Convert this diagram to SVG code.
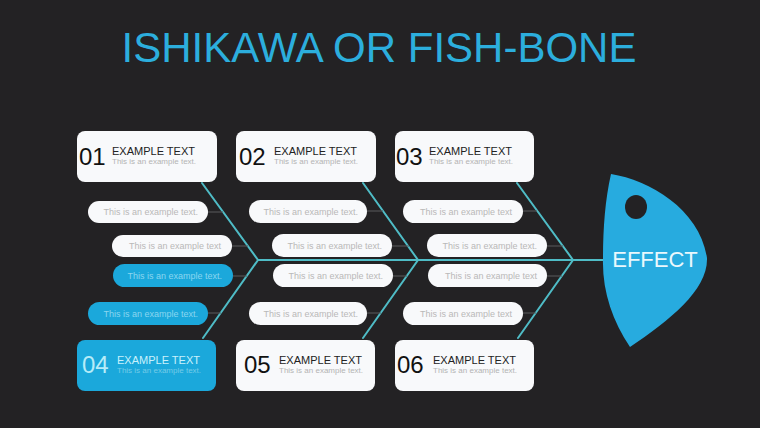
<svg xmlns="http://www.w3.org/2000/svg" width="760" height="428" viewBox="0 0 760 428">
<style>
.bone{fill:none;stroke:#4fbcc6;stroke-width:2;stroke-linecap:round}
.tick{fill:none;stroke:#5a5a5c;stroke-width:1}
.box{fill:#f8f9fb}
.boxb{fill:#1ba8db}
.pill{fill:#f8f9fb}
.pillb{fill:#1ba8db}
.num{font-family:"Liberation Sans",Arial,sans-serif;font-size:24px;fill:#111}
.head{font-family:"Liberation Sans",Arial,sans-serif;font-size:11px;fill:#222}
.sub{font-family:"Liberation Sans",Arial,sans-serif;font-size:8px;fill:#b4b4b4}
.pt{font-family:"Liberation Sans",Arial,sans-serif;font-size:9px;fill:#b8b8b8;text-anchor:end}
.ptb{font-family:"Liberation Sans",Arial,sans-serif;font-size:9px;fill:#8ad6f0;text-anchor:end}
</style>
<rect width="760" height="428" fill="#232224"/>
<text x="379" y="62" text-anchor="middle" font-family="Liberation Sans,Arial,sans-serif" font-size="42" fill="#2caedd">ISHIKAWA OR FISH-BONE</text>

<g id="connectors">
<path class="bone" d="M258,260 H606"/>
<path class="bone" d="M202,183 L258,260 L203,338"/>
<path class="bone" d="M363,183 L418,260 L363,338"/>
<path class="bone" d="M517,183 L573,260 L518,338"/>
<path class="tick" d="M208,212 H223 M232,246 H248 M233,276 H247 M208,313 H221"/>
<path class="tick" d="M367,211 H383 M392,246 H409 M393,276 H407 M367,313 H381"/>
<path class="tick" d="M523,211 H537 M547,246 H563 M547,276 H562 M523,313 H536"/>
</g>

<g id="box01"><rect class="box" x="77" y="131" width="140" height="51" rx="8"/><text class="num" x="79" y="165">01</text><text class="head" x="112" y="155">EXAMPLE TEXT</text><text class="sub" x="112" y="164">This is an example text.</text></g>
<g id="box02"><rect class="box" x="236" y="131" width="140" height="51" rx="8"/><text class="num" x="239" y="165">02</text><text class="head" x="274" y="155">EXAMPLE TEXT</text><text class="sub" x="274" y="164">This is an example text.</text></g>
<g id="box03"><rect class="box" x="395" y="131" width="139" height="51" rx="8"/><text class="num" x="396" y="165">03</text><text class="head" x="429" y="155">EXAMPLE TEXT</text><text class="sub" x="429" y="164">This is an example text.</text></g>
<g id="box04"><rect class="boxb" x="77" y="340" width="139" height="51" rx="8"/><text class="num" x="82" y="373" fill="#b6ecf8" style="fill:#b6ecf8">04</text><text class="head" x="117" y="364" style="fill:#c9f1fb">EXAMPLE TEXT</text><text class="sub" x="117" y="373" style="fill:#74cbe8">This is an example text.</text></g>
<g id="box05"><rect class="box" x="236" y="340" width="139" height="51" rx="8"/><text class="num" x="244" y="373">05</text><text class="head" x="279" y="364">EXAMPLE TEXT</text><text class="sub" x="279" y="373">This is an example text.</text></g>
<g id="box06"><rect class="box" x="395" y="340" width="139" height="51" rx="8"/><text class="num" x="397" y="373">06</text><text class="head" x="433" y="364">EXAMPLE TEXT</text><text class="sub" x="433" y="373">This is an example text.</text></g>

<g id="pill1a"><rect class="pill" x="88" y="201" width="120" height="22" rx="11"/><text class="pt" x="198" y="215">This is an example text.</text></g>
<g id="pill1b"><rect class="pill" x="112" y="235" width="120" height="22" rx="11"/><text class="pt" x="221" y="249">This is an example text</text></g>
<g id="pill1c"><rect class="pillb" x="113" y="264" width="120" height="23" rx="11.5"/><text class="ptb" x="222" y="279">This is an example text.</text></g>
<g id="pill1d"><rect class="pillb" x="88" y="302" width="120" height="23" rx="11.5"/><text class="ptb" x="198" y="317">This is an example text.</text></g>

<g id="pill2a"><rect class="pill" x="249" y="200" width="118" height="23" rx="11.5"/><text class="pt" x="358" y="215">This is an example text.</text></g>
<g id="pill2b"><rect class="pill" x="272" y="234" width="120" height="23" rx="11.5"/><text class="pt" x="382" y="249">This is an example text.</text></g>
<g id="pill2c"><rect class="pill" x="273" y="264" width="120" height="23" rx="11.5"/><text class="pt" x="383" y="279">This is an example text.</text></g>
<g id="pill2d"><rect class="pill" x="249" y="302" width="118" height="23" rx="11.5"/><text class="pt" x="358" y="317">This is an example text.</text></g>

<g id="pill3a"><rect class="pill" x="403" y="200" width="120" height="23" rx="11.5"/><text class="pt" x="512" y="215">This is an example text</text></g>
<g id="pill3b"><rect class="pill" x="427" y="234" width="120" height="23" rx="11.5"/><text class="pt" x="537" y="249">This is an example text.</text></g>
<g id="pill3c"><rect class="pill" x="428" y="264" width="119" height="23" rx="11.5"/><text class="pt" x="537" y="279">This is an example text</text></g>
<g id="pill3d"><rect class="pill" x="403" y="302" width="120" height="23" rx="11.5"/><text class="pt" x="512" y="317">This is an example text</text></g>

<g id="effect">
<path d="M611,174 C650,180 700,210 707,258 C708,290 670,320 630,347 C612,320 602,290 603,258 C603,230 605,200 611,174 Z" fill="#27abdf"/>
<ellipse cx="636" cy="207" rx="11" ry="12" fill="#232224"/>
<text x="655" y="267" text-anchor="middle" font-family="Liberation Sans,Arial,sans-serif" font-size="22" fill="#e9f8fd">EFFECT</text>
</g>
</svg>
